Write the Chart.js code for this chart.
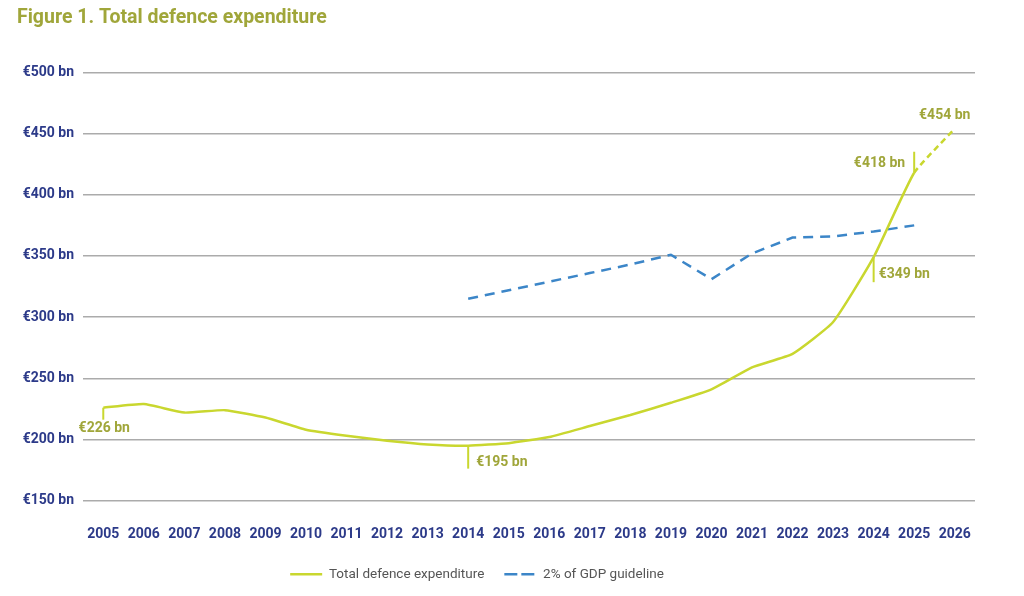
<!DOCTYPE html>
<html>
<head>
<meta charset="utf-8">
<script src="https://cdn.jsdelivr.net/npm/chart.js@4/dist/chart.umd.min.js"></script>
<style>
  html, body { margin: 0; padding: 0; background: #ffffff; }
  #wrap { width: 1024px; height: 596px; }
</style>
</head>
<body>
<div id="wrap"><canvas id="chart" width="1024" height="596"></canvas></div>
<script>
// data (EUR bn)
var years = ['2005', '2006', '2007', '2008', '2009', '2010', '2011', '2012', '2013', '2014', '2015',
    '2016', '2017', '2018', '2019', '2020', '2021', '2022', '2023', '2024', '2025', '2026'];
var totalSpend = [226, 229, 222, 224, 218, 208, 203, 199, 196, 195, 197,
    202, 211, 220, 230, 241, 259, 270, 296, 349, 418, 454];
var gdpGuideline = [null, null, null, null, null, null, null, null, null, 315, 322,
    329, 336, 343, 351, 331, 352, 365, 366, 370, 375, null];
var yTicks = [150, 200, 250, 300, 350, 400, 450, 500];
var calloutYears = ['2005', '2014', '2024', '2025', '2026'];

var GREEN = '#c9d72f';
var OLIVE = '#a0a63a';
var NAVY = '#2c3a89';
var BLUE = '#3c86c8';

// where each callout sits relative to its point
var calloutLayout = {
    '2005': { tick: 12, dx: 1, dy: 21, align: 'center' },
    '2014': { tick: 23, dx: 8, dy: 17, align: 'left' },
    '2024': { tick: 25, dx: 5, dy: 17, align: 'left' },
    '2025': { tick: -21, dx: -9, dy: -9, align: 'right' },
    '2026': { tick: 0, dx: -10, dy: -13, align: 'center' }
};

var calloutPlugin = {
    id: 'callouts',
    afterLayout: function (chart) {
        // legend sits a little left of centre in the original
        chart.legend.left -= 19;
        chart.legend.right -= 19;
    },
    afterDatasetsDraw: function (chart) {
        var ctx = chart.ctx;
        var x = chart.scales.x, y = chart.scales.y;
        ctx.save();
        ctx.strokeStyle = GREEN;
        ctx.lineWidth = 2;
        ctx.fillStyle = OLIVE;
        ctx.font = 'bold 14px Roboto';
        ctx.textBaseline = 'middle';
        calloutYears.forEach(function (yr) {
            var i = years.indexOf(yr);
            var v = totalSpend[i];
            var px = x.getPixelForValue(i);
            var py = y.getPixelForValue(v);
            var c = calloutLayout[yr];
            if (c.tick) {
                ctx.beginPath();
                ctx.moveTo(px, py);
                ctx.lineTo(px, py + c.tick);
                ctx.stroke();
            }
            ctx.textAlign = c.align;
            ctx.fillText('€' + v + ' bn', px + c.dx, py + c.dy);
        });
        ctx.restore();
    }
};

Chart.defaults.font.family = 'Roboto';

var ctx = document.getElementById('chart').getContext('2d');
var chart = new Chart(ctx, {
    type: 'line',
    data: {
        labels: years,
        datasets: [{
            label: 'Total defence expenditure',
            data: totalSpend,
            borderColor: GREEN,
            backgroundColor: GREEN,
            borderWidth: 2.5,
            pointRadius: 0,
            tension: 0.15,
            segment: {
                borderDash: function (c) { return c.p0DataIndex >= 20 ? [6, 4] : undefined; }
            }
        }, {
            label: '2% of GDP guideline',
            data: gdpGuideline,
            borderColor: BLUE,
            backgroundColor: BLUE,
            borderWidth: 2.5,
            borderDash: [10, 7],
            pointRadius: 0,
            tension: 0
        }]
    },
    options: {
        responsive: false,
        animation: false,
        layout: { padding: { left: 17, right: 49, top: 0, bottom: 5 } },
        plugins: {
            title: {
                display: true,
                text: 'Figure 1. Total defence expenditure',
                align: 'start',
                color: OLIVE,
                font: { size: 19.5, weight: 'bold' },
                padding: { top: 6, bottom: 43 }
            },
            legend: {
                position: 'bottom',
                labels: {
                    boxWidth: 32,
                    boxHeight: 0,
                    padding: 20,
                    color: '#555555',
                    font: { size: 13.5 }
                }
            },
            tooltip: { enabled: false }
        },
        scales: {
            x: {
                offset: true,
                grid: { display: false, drawTicks: false },
                border: { display: false },
                ticks: { color: NAVY, font: { size: 14, weight: 'bold' }, padding: 25, maxRotation: 0, autoSkip: false },
                afterFit: function (scale) { scale.height -= 20; }
            },
            y: {
                min: 150,
                max: 500,
                afterBuildTicks: function (scale) {
                    scale.ticks = yTicks.map(function (v) { return { value: v }; });
                },
                afterFit: function (scale) { scale.width = 66; },
                grid: { color: '#ababab', lineWidth: 1.5, drawTicks: false },
                border: { display: false },
                ticks: {
                    color: NAVY,
                    font: { size: 14, weight: 'bold' },
                    padding: 9,
                    callback: function (v) { return '€' + v + ' bn'; }
                }
            }
        }
    },
    plugins: [calloutPlugin]
});
</script>
</body>
</html>
